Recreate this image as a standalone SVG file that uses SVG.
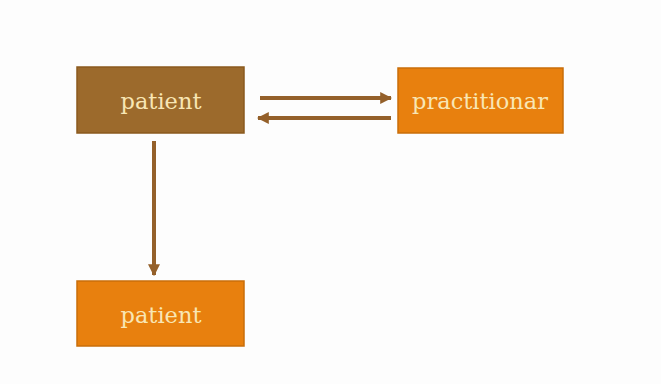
<svg xmlns="http://www.w3.org/2000/svg" width="661" height="384" viewBox="0 0 661 384">
<style>
.box{stroke-width:1.5}
.brown{fill:#9C6A2C;stroke:#8A5A1E}
.orange{fill:#E8800E;stroke:#C96E0A}
.lbl{font-family:"DejaVu Serif","Liberation Serif",serif;font-size:22.5px;fill:#F8E6B4;text-anchor:middle;dominant-baseline:central}
.con{stroke:#94602A;stroke-width:4;fill:none}
</style>
<defs>
<marker id="ah" viewBox="0 0 10 10" refX="9" refY="5" markerWidth="3" markerHeight="3" orient="auto">
<path d="M0,0 L10,5 L0,10 z" fill="#94602A"/>
</marker>
</defs>
<rect width="661" height="384" fill="#FDFDFD"/>
<g id="n1"><rect class="box brown" x="77" y="67" width="167" height="66"/><text class="lbl" x="161" y="101">patient</text></g>
<g id="n2"><rect class="box orange" x="398" y="68" width="165" height="65"/><text class="lbl" x="480" y="101">practitionar</text></g>
<g id="n3"><rect class="box orange" x="77" y="281" width="167" height="65"/><text class="lbl" x="161" y="315">patient</text></g>
<g id="connectors">
<line class="con" x1="260" y1="98" x2="391" y2="98" marker-end="url(#ah)"/>
<line class="con" x1="391" y1="118" x2="258" y2="118" marker-end="url(#ah)"/>
<line class="con" x1="154" y1="141" x2="154" y2="275" marker-end="url(#ah)"/>
</g>
</svg>
